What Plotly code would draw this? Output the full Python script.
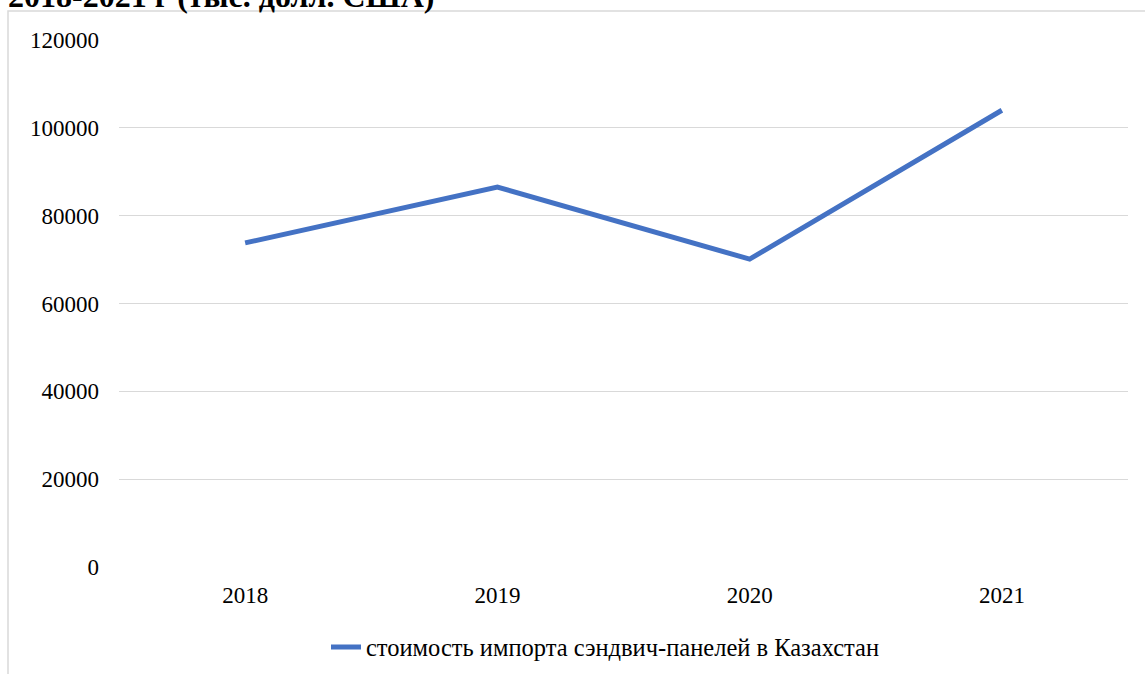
import plotly.graph_objects as go

years = ["2018", "2019", "2020", "2021"]
import_value = [73800, 86500, 70100, 104000]
series_name = "стоимость импорта сэндвич-панелей в Казахстан"
title_text = "2018-2021 г (тыс. долл. США)"
y_ticks = [0, 20000, 40000, 60000, 80000, 100000, 120000]

FONT = "Liberation Serif, Times New Roman, serif"

fig = go.Figure()
fig.add_trace(go.Scatter(
    x=years, y=import_value, mode="lines", name=series_name,
    line=dict(color="#4472C4", width=5),
))

W, H = 1145, 674
L, R, T, B = 119, 17, 40, 107
pw, ph = W - L - R, H - T - B

def px_x(p):
    return (p - L) / pw

def px_y(p):
    return (H - B - p) / ph

fig.update_layout(
    width=W, height=H,
    margin=dict(l=L, r=R, t=T, b=B, autoexpand=False),
    paper_bgcolor="white", plot_bgcolor="white",
    font=dict(family=FONT, size=23, color="#000000"),
    showlegend=True,
    legend=dict(orientation="h", x=px_x(326), xanchor="left",
                y=px_y(647), yanchor="middle",
                font=dict(family=FONT, size=24.5, color="#000000")),
    xaxis=dict(type="category", range=[-0.5, 3.5], showgrid=False,
               showline=False, ticks="", zeroline=False,
               ticklabelstandoff=12),
    yaxis=dict(range=[0, 120000], tickvals=y_ticks,
               ticktext=[str(v) for v in y_ticks],
               showgrid=True, gridcolor="#D9D9D9", gridwidth=1,
               zeroline=False, showline=False, ticks="",
               ticklabelstandoff=19),
    shapes=[dict(type="rect", xref="paper", yref="paper",
                 x0=px_x(8), x1=px_x(1160), y0=px_y(700), y1=px_y(11),
                 line=dict(color="#D9D9D9", width=1.5), fillcolor="rgba(0,0,0,0)",
                 layer="below")],
    annotations=[dict(text="<b>" + title_text + "</b>", xref="paper", yref="paper",
                      x=px_x(6), xanchor="left", y=px_y(16), yanchor="bottom",
                      showarrow=False,
                      font=dict(family=FONT, size=32, color="#000000"))],
)

fig.write_html("out.html", config={"displayModeBar": False},
               post_script="document.body.style.margin='0';")
